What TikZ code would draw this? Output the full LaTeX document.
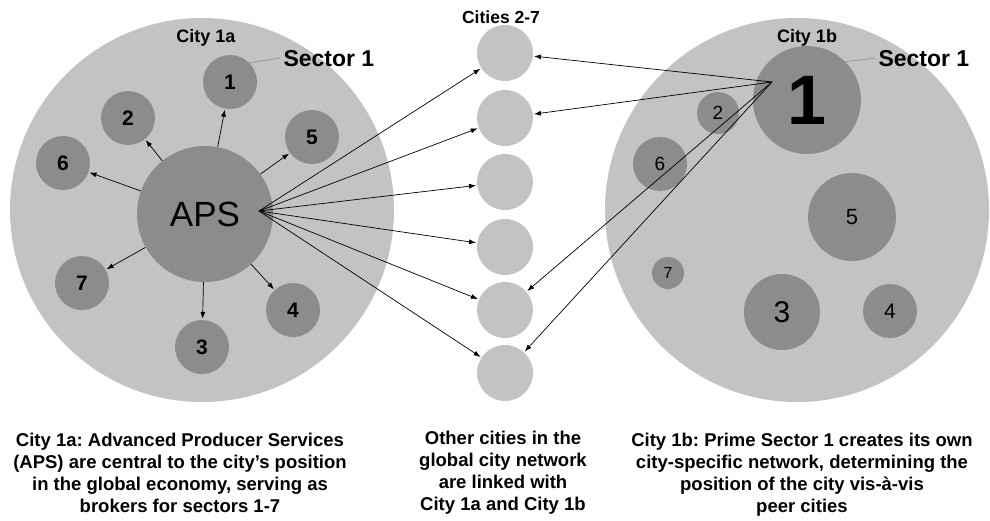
\documentclass[tikz,border=0pt]{standalone}
\usepackage{fontspec}
\setmainfont{Liberation Sans}
\usepackage{tikz}
\usetikzlibrary{arrows.meta}
\definecolor{citygray}{RGB}{195,195,195}
\definecolor{sectorgray}{RGB}{140,140,140}
\definecolor{leadergray}{RGB}{150,150,150}
\newcommand{\setfs}[2]{\fontsize{#1}{#2}\selectfont}
\frenchspacing

\begin{document}
\begin{tikzpicture}[x=1pt, y=-1pt,
		city/.style={circle, fill=citygray, inner sep=0pt},
		sector/.style={circle, fill=sectorgray, inner sep=0pt, minimum size=54pt, font=\bfseries\setfs{21}{24}},
		link/.style={-{Latex[length=7pt,width=5pt]}, line width=0.7pt, shorten >=1pt},
		leader/.style={draw=leadergray, line width=0.8pt},
		title/.style={anchor=base, font=\bfseries\setfs{18}{20}},
		caption/.style={align=center, anchor=north, inner sep=0pt, font=\bfseries\setfs{18.5}{22}}]
			\useasboundingbox (0,0) rectangle (990,520);
			\fill[white] (0,0) rectangle (990,520);

			% city 1a: APS in the middle, brokering sectors 1-7
			\node[city, minimum size=384pt] (city1a) at (202,210) {};
			\node[title] (lbla) at (206,42) {City 1a};
			\node[sector, minimum size=136pt, font=\setfs{35}{40}] (aps) at (205,214) {APS};
			\node[sector] (a1) at (230,82) {1};
			\node[sector] (a2) at (128,118) {2};
			\node[sector] (a3) at (202,347) {3};
			\node[sector] (a4) at (293,310) {4};
			\node[sector] (a5) at (312,137) {5};
			\node[sector] (a6) at (63,163) {6};
			\node[sector] (a7) at (82,283) {7};
			\node[anchor=base west, font=\bfseries\setfs{23}{26}] (seca) at (280,66) {Sector 1};
			\draw[leader] (a1.north east) -- (seca.west);

			% city 1b: sector 1 dominates
			\node[city, minimum size=384pt] (city1b) at (797,210) {};
			\node[title] (lblb) at (807,42) {City 1b};
			\node[sector, minimum size=108pt, font=\bfseries\setfs{70}{72}] (b1) at (807,100) {1};
			\node[sector, minimum size=42pt, font=\setfs{19}{20}] (b2) at (718,113) {2};
			\node[sector, minimum size=76pt, font=\setfs{30}{32}] (b3) at (782,312) {3};
			\node[sector, minimum size=54pt, font=\setfs{21}{22}] (b4) at (890,311) {4};
			\node[sector, minimum size=88pt, font=\setfs{22}{24}] (b5) at (852,217) {5};
			\node[sector, minimum size=54pt, font=\setfs{19}{20}] (b6) at (660,164) {6};
			\node[sector, minimum size=32pt, font=\setfs{16}{18}] (b7) at (668,273) {7};
			\node[anchor=base west, font=\bfseries\setfs{23}{26}] (secb) at (875,66) {Sector 1};
			\draw[leader] (b1.north east) -- (secb.west);

			% the other cities
			\node[title, font=\bfseries\setfs{17.5}{20}] (lblc) at (501,23) {Cities 2-7};
			\foreach \c/\y in {2/53, 3/118, 4/182, 5/247, 6/310, 7/373}
				\node[city, minimum size=56pt] (city\c) at (505,\y) {};

			\coordinate (apshub) at (259,211);
			\coordinate (sechub) at (772,82);
			\foreach \s in {1,...,7}
				\draw[link] (aps) -- (a\s);
			\foreach \c in {2,...,7}
				\draw[link] (apshub) -- (city\c);
			\foreach \c in {2,3,6,7}
				\draw[link] (sechub) -- (city\c);

			\node[caption] (capa) at (180,433) {City 1a: Advanced Producer Services\\(APS) are central to the city’s position\\in the global economy, serving as\\brokers for sectors 1-7};
			\node[caption] (capc) at (503,431) {Other cities in the\\global city network\\are linked with\\City 1a and City 1b};
			\node[caption] (capb) at (802,433) {City 1b: Prime Sector 1 creates its own\\city-specific network, determining the\\position of the city vis-à-vis\\peer cities};
		\end{tikzpicture}
\end{document}
